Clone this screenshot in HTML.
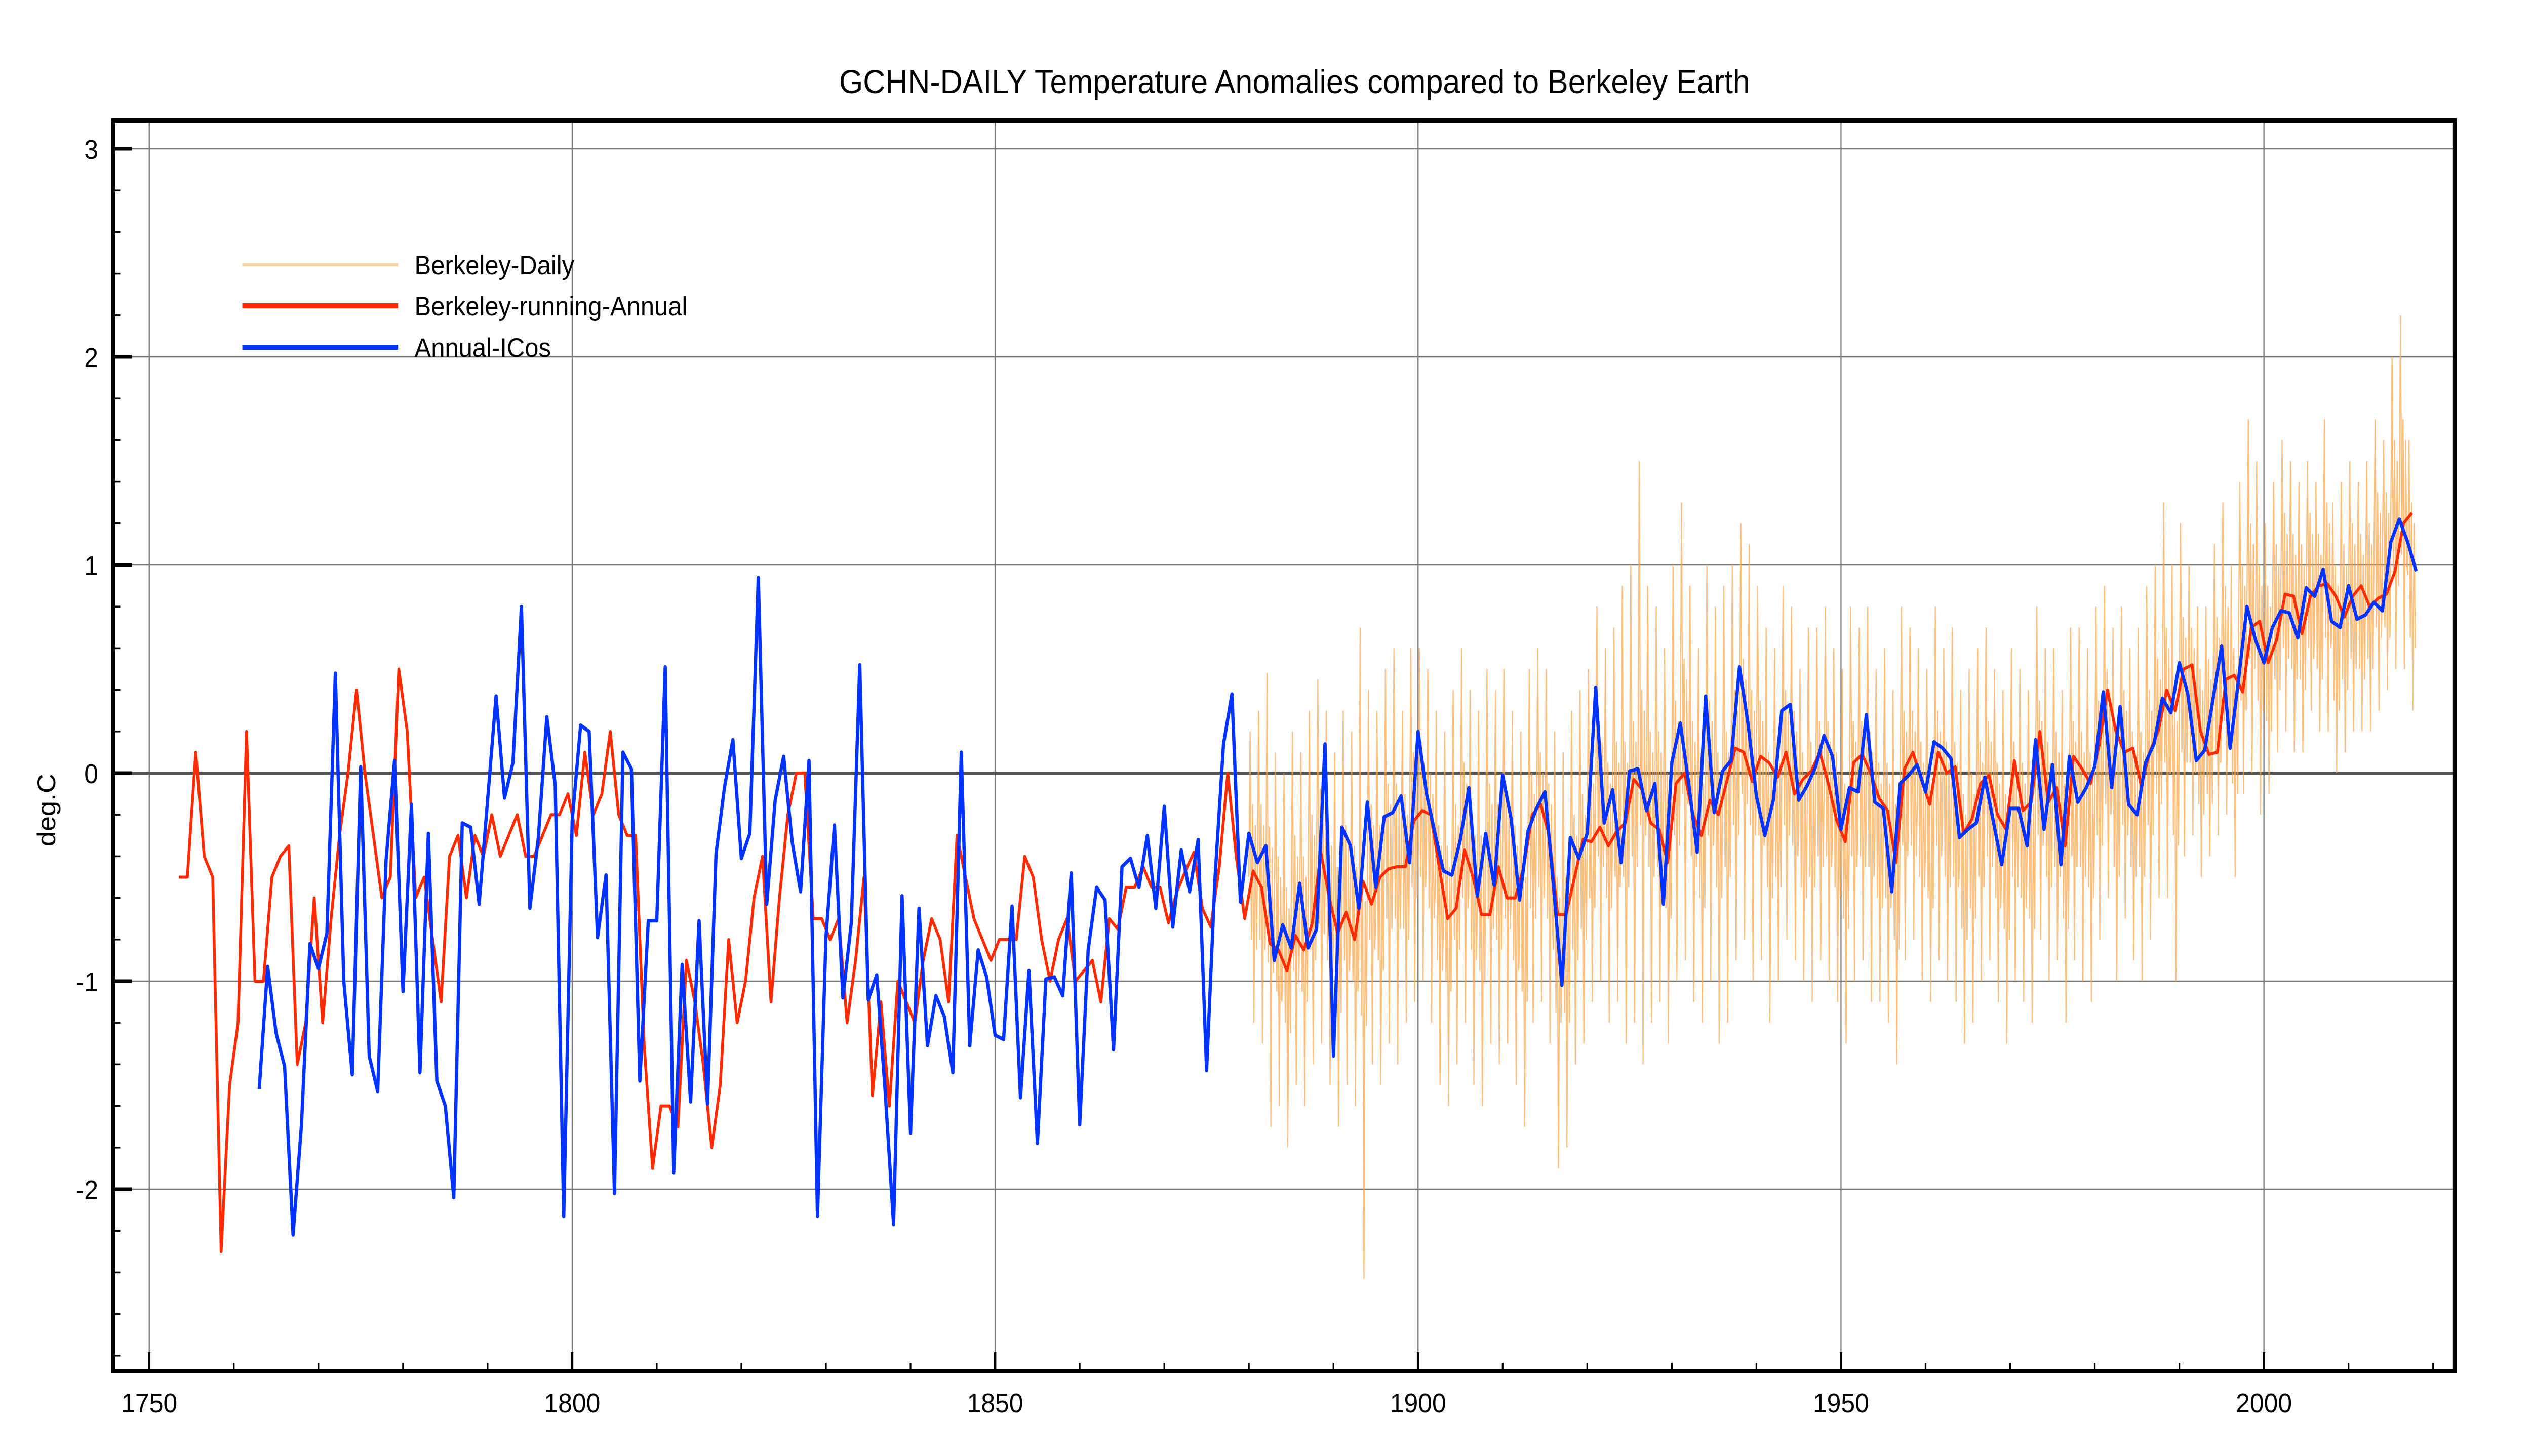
<!DOCTYPE html>
<html><head><meta charset="utf-8">
<style>
html,body{margin:0;padding:0;background:#fff;overflow:hidden;width:100vw;height:100vh;}
svg{display:block;font-family:"Liberation Sans",Arial,sans-serif;width:100vw;height:100vh;}
</style></head>
<body>
<svg id="chart" viewBox="0 0 5412 2876" preserveAspectRatio="none" xmlns="http://www.w3.org/2000/svg">
<defs><clipPath id="plotclip"><rect x="246" y="242" width="4997" height="2462"/></clipPath></defs>
<rect x="0" y="0" width="5412" height="2876" fill="#fff"/>
<text x="2767" y="184" font-size="66" text-anchor="middle" fill="#000">GCHN-DAILY Temperature Anomalies compared to Berkeley Earth</text>
<text transform="translate(118,1600) rotate(-90)" font-size="54" text-anchor="middle" fill="#000">deg.C</text>
<g id="grid"></g>
<g id="series" clip-path="url(#plotclip)"></g>
<g id="axes"></g>
<g id="legend">
  <line x1="518" y1="523" x2="851" y2="523" stroke="#fdd3a6" stroke-width="6"/>
  <text x="886" y="542" font-size="53">Berkeley-Daily</text>
  <line x1="518" y1="604" x2="851" y2="604" stroke="#ff2a00" stroke-width="10"/>
  <text x="886" y="623" font-size="53">Berkeley-running-Annual</text>
  <line x1="518" y1="686" x2="851" y2="686" stroke="#0033ff" stroke-width="10"/>
  <text x="886" y="705" font-size="53">Annual-ICos</text>
</g>
</svg>
<script>
const xTickYears = [1750, 1800, 1850, 1900, 1950, 2000];
const yTickValues = [3, 2, 1, 0, -1, -2];
const yTickLabels = ["3", "2", "1", "0", "-1", "-2"];

const redStartYear = 1753;
const redValues = [-0.5,-0.5,0.1,-0.4,-0.5,-2.3,-1.5,-1.2,0.2,-1.0,-1.0,-0.5,-0.4,-0.35,-1.4,-1.2,-0.6,-1.2,-0.7,-0.3,0.0,0.4,0.0,-0.3,-0.6,-0.5,0.5,0.2,-0.6,-0.5,-0.8,-1.1,-0.4,-0.3,-0.6,-0.3,-0.4,-0.2,-0.4,-0.3,-0.2,-0.4,-0.4,-0.3,-0.2,-0.2,-0.1,-0.3,0.1,-0.2,-0.1,0.2,
-0.2,-0.3,-0.3,-1.3,-1.9,-1.6,-1.6,-1.7,-0.9,-1.1,-1.4,-1.8,-1.5,-0.8,-1.2,-1.0,-0.6,-0.4,-1.1,-0.6,-0.2,0.0,0.0,-0.7,-0.7,-0.8,-0.7,-1.2,-0.9,-0.5,-1.55,-1.1,-1.6,-1.0,-1.1,-1.2,-0.9,-0.7,-0.8,-1.1,-0.3,-0.5,-0.7,-0.8,-0.9,-0.8,-0.8,-0.8,-0.4,-0.5,-0.8,-1.0,-0.8,-0.7,-1.0,-0.95,-0.9,-1.1,-0.7,
-0.75,-0.55,-0.55,-0.45,-0.55,-0.55,-0.72,-0.57,-0.47,-0.38,-0.65,-0.74,-0.45,0.0,-0.4,-0.7,-0.47,-0.55,-0.82,-0.85,-0.95,-0.78,-0.85,-0.72,-0.38,-0.6,-0.77,-0.67,-0.8,-0.52,-0.63,-0.5,-0.46,-0.45,-0.45,-0.23,-0.18,-0.2,-0.45,-0.7,-0.65,-0.37,-0.5,-0.68,-0.68,-0.45,-0.6,-0.6,-0.45,-0.2,-0.15,-0.3,-0.68,-0.68,-0.5,-0.32,-0.33,-0.26,-0.35,-0.28,-0.24,-0.03,-0.08,-0.24,-0.27,-0.43,-0.05,0.0,-0.2,-0.3,-0.13,
-0.2,-0.04,0.12,0.1,-0.04,0.08,0.05,-0.02,0.1,-0.1,-0.03,0.01,0.1,-0.05,-0.23,-0.33,0.05,0.09,0.0,-0.12,-0.18,-0.43,0.02,0.1,-0.03,-0.15,0.1,0.0,0.03,-0.29,-0.22,-0.05,-0.01,-0.2,-0.27,0.06,-0.18,-0.14,0.2,-0.14,-0.07,-0.35,0.08,0.02,-0.05,0.13,0.4,0.2,0.1,0.12,-0.06,0.1,0.2,0.4,0.3,0.5,0.52,0.2,0.09,0.1,0.45,0.47,0.39,0.7,0.73,0.53,0.64,0.86,0.85,0.67,0.85,0.9,0.91,0.85,0.75,0.85,0.9,0.8,0.84,0.86,0.97,1.2,1.25];

const blueStartYear = 1763;
const blueValues = [-1.52,-0.93,-1.25,-1.41,-2.22,-1.69,-0.82,-0.94,-0.77,0.48,-1.0,-1.45,0.03,-1.36,-1.53,-0.42,0.06,-1.05,-0.15,-1.44,-0.29,-1.48,-1.6,-2.04,-0.24,-0.26,-0.63,-0.13,0.37,-0.12,0.05,0.8,-0.65,-0.31,0.27,-0.06,-2.13,-0.23,0.23,0.2,-0.79,-0.49,-2.02,0.1,0.02,-1.48,-0.71,-0.71,0.51,-1.92,-0.92,-1.58,-0.71,-1.59,-0.39,-0.07,0.16,-0.41,-0.29,0.94,-0.63,-0.13,0.08,-0.33,-0.57,0.06,-2.13,-0.79,-0.25,-1.08,-0.72,0.52,-1.09,-0.97,-1.53,-2.17,-0.59,-1.73,-0.65,-1.31,-1.07,-1.17,-1.44,0.1,-1.31,-0.85,-0.98,-1.26,-1.28,-0.64,-1.56,-0.95,-1.78,-0.99,-0.98,-1.07,-0.48,-1.69,-0.85,-0.55,-0.61,-1.33,-0.45,-0.41,-0.55,-0.3,-0.65,-0.16,-0.74,-0.37,-0.57,-0.32,-1.43,-0.5,0.14,0.38,-0.62,-0.29,-0.43,-0.35,-0.9,-0.73,-0.84,-0.53,-0.84,-0.75,0.14,-1.36,-0.26,-0.35,-0.65,-0.14,-0.55,-0.21,-0.19,-0.11,-0.43,0.2,-0.1,-0.29,-0.47,-0.49,-0.32,-0.07,-0.59,-0.29,-0.54,-0.01,-0.22,-0.61,-0.28,-0.17,-0.09,-0.54,-1.02,-0.31,-0.41,-0.29,0.41,-0.24,-0.08,-0.43,0.01,0.02,-0.18,-0.05,-0.63,0.05,0.24,-0.05,-0.38,0.37,-0.19,0.01,0.06,0.51,0.24,-0.11,-0.3,-0.13,0.3,0.33,-0.13,-0.06,0.03,0.18,0.08,-0.27,-0.07,-0.09,0.28,-0.14,-0.17,-0.57,-0.05,-0.01,0.04,-0.09,0.15,0.12,0.07,-0.31,-0.27,-0.24,-0.02,-0.23,-0.44,-0.17,-0.17,-0.35,0.16,-0.27,0.04,-0.44,0.08,-0.14,-0.07,0.03,0.39,-0.07,0.32,-0.15,-0.2,0.05,0.14,0.36,0.29,0.53,0.38,0.06,0.11,0.36,0.61,0.12,0.45,0.8,0.64,0.53,0.7,0.78,0.77,0.65,0.89,0.85,0.98,0.73,0.7,0.9,0.74,0.76,0.82,0.78,1.11,1.22,1.11,0.97];

const dailyStartYear = 1880;
const dailyHigh = [0.2,0.3,0.48,0.1,0.0,0.2,0.1,0.3,0.45,0.3,
0.1,0.3,0.2,0.7,0.4,0.3,0.5,0.6,0.3,0.6,
0.6,0.5,0.3,0.2,0.4,0.6,0.4,0.3,0.5,0.4,
0.5,0.3,0.2,0.5,0.6,0.5,0.2,0.1,0.3,0.4,
0.5,0.8,0.6,0.7,0.9,1.0,1.5,0.9,0.8,0.6,
1.0,1.3,0.9,0.6,1.0,0.8,0.9,1.0,1.2,1.1,
0.9,0.7,0.6,0.9,0.8,0.5,0.7,0.7,0.8,0.6,
0.5,0.8,0.7,0.8,0.5,0.6,0.4,0.8,0.7,0.6,
0.5,0.8,0.6,0.7,0.4,0.5,0.6,0.7,0.5,0.4,
0.6,0.5,0.4,0.8,0.6,0.6,0.4,0.7,0.7,0.6,
0.8,0.9,0.7,0.8,0.6,0.7,0.9,1.0,1.3,1.0,
1.2,1.0,0.8,0.8,1.1,1.3,1.0,1.4,1.7,1.5,
1.2,1.4,1.6,1.5,1.4,1.5,1.4,1.7,1.3,1.4,
1.5,1.4,1.5,1.7,1.6,2.0,2.2,1.6];
const dailyLow = [-1.2,-1.3,-1.7,-1.6,-1.8,-1.5,-1.6,-1.4,-1.3,-1.5,
-1.7,-1.5,-1.6,-2.43,-1.4,-1.5,-1.3,-1.4,-1.2,-1.1,
-1.0,-1.2,-1.5,-1.6,-1.4,-1.2,-1.5,-1.6,-1.3,-1.4,
-1.3,-1.5,-1.7,-1.2,-1.1,-1.3,-1.9,-1.8,-1.4,-1.3,
-1.1,-1.0,-1.2,-1.1,-1.3,-1.2,-1.4,-1.2,-1.1,-1.3,
-1.0,-0.9,-1.1,-1.2,-1.0,-1.3,-1.2,-0.9,-0.8,-1.0,
-0.9,-1.2,-1.0,-0.8,-0.9,-1.0,-1.1,-0.9,-1.0,-1.1,
-1.3,-1.0,-0.9,-1.1,-1.1,-1.2,-1.4,-0.9,-0.8,-1.0,
-1.1,-0.9,-1.0,-1.1,-1.3,-1.2,-1.0,-0.9,-1.1,-1.3,
-1.0,-1.1,-1.2,-0.8,-1.0,-0.9,-1.2,-0.9,-1.0,-1.1,
-0.8,-0.6,-1.0,-0.7,-0.9,-1.0,-0.8,-0.6,-0.6,-1.0,
-0.4,-0.3,-0.5,-0.4,-0.3,-0.2,-0.5,-0.1,0.0,-0.2,
-0.1,0.1,0.2,0.1,0.1,0.3,0.2,0.2,0.0,0.1,
0.2,0.2,0.2,0.3,0.4,0.5,0.5,0.3];

const NS = "http://www.w3.org/2000/svg";
const X0 = 242, X1 = 5247, Y0 = 238, Y1 = 2708;
function xScale(yr){ return 319 + (yr - 1750) * 18.08; }
function yScale(v){ return 1527 - v * 411; }
function mk(tag, attrs, parent){
  const el = document.createElementNS(NS, tag);
  for (const k in attrs) el.setAttribute(k, attrs[k]);
  parent.appendChild(el);
  return el;
}
const grid = document.getElementById('grid');
const axes = document.getElementById('axes');
const series = document.getElementById('series');

xTickYears.forEach(function(yr){
  const l = mk('line', {x1: xScale(yr), x2: xScale(yr), y1: Y0, y2: Y1, stroke: '#777', 'stroke-width': 2.5}, grid);
  
  
});
yTickValues.forEach(function(v){
  const l = mk('line', {x1: X0, x2: X1, y1: yScale(v), y2: yScale(v), stroke: v === 0 ? '#555' : '#777', 'stroke-width': v === 0 ? 6 : 2.5}, grid);
  
  
});

let dp = '';
dailyHigh.forEach(function(h, i){
  const yr = dailyStartYear + i;
  const lo = dailyLow[i];
  const mid = (h + lo) / 2;
  dp += (i === 0 ? 'M' : 'L') + xScale(yr).toFixed(1) + ',' + yScale(mid).toFixed(1);
  dp += 'L' + xScale(yr + 0.15).toFixed(1) + ',' + yScale(h).toFixed(1);
  dp += 'L' + xScale(yr + 0.3).toFixed(1) + ',' + yScale(mid - 0.3).toFixed(1);
  dp += 'L' + xScale(yr + 0.45).toFixed(1) + ',' + yScale(mid + 0.35).toFixed(1);
  dp += 'L' + xScale(yr + 0.6).toFixed(1) + ',' + yScale(lo).toFixed(1);
  dp += 'L' + xScale(yr + 0.75).toFixed(1) + ',' + yScale(mid + 0.25).toFixed(1);
  dp += 'L' + xScale(yr + 0.9).toFixed(1) + ',' + yScale(mid - 0.35).toFixed(1);
});
const daily = mk('path', {d: dp, fill: 'none', stroke: '#ffa445', 'stroke-opacity': 0.7, 'stroke-width': 2.5}, series);



let rp = '';
redValues.forEach(function(v, i){
  rp += (i === 0 ? 'M' : 'L') + xScale(redStartYear + i + 0.5).toFixed(1) + ',' + yScale(v).toFixed(1);
});
const red = mk('path', {d: rp, fill: 'none', stroke: '#ff2a00', 'stroke-width': 6, 'stroke-linejoin': 'round'}, series);



let bp = '';
blueValues.forEach(function(v, i){
  bp += (i === 0 ? 'M' : 'L') + xScale(blueStartYear + i).toFixed(1) + ',' + yScale(v).toFixed(1);
});
const blue = mk('path', {d: bp, fill: 'none', stroke: '#0033ff', 'stroke-width': 7, 'stroke-linejoin': 'round'}, series);



const frame = mk('rect', {x: X0, y: Y0, width: X1 - X0, height: Y1 - Y0, fill: 'none', stroke: '#000', 'stroke-width': 8}, axes);



for (let yr = 1750; yr <= 2020; yr += 10){
  const major = yr % 50 === 0;
  const t = mk('line', {x1: xScale(yr), x2: xScale(yr), y1: Y1, y2: Y1 - (major ? 37 : 16), stroke: '#000', 'stroke-width': major ? 5 : 3.5}, axes);
  
  
}
xTickYears.forEach(function(yr){
  const t = mk('text', {x: xScale(yr), y: 2790, 'font-size': 54, 'text-anchor': 'middle', fill: '#000'}, axes);
  t.textContent = String(yr);
  
  
});
for (let k = -14; k <= 15; k++){
  const v = k / 5;
  const major = k % 5 === 0;
  const t = mk('line', {x1: X0, x2: X0 + (major ? 40 : 15), y1: yScale(v), y2: yScale(v), stroke: '#000', 'stroke-width': major ? 7 : 3.5}, axes);
  
  
}
yTickValues.forEach(function(v, i){
  const t = mk('text', {x: 210, y: yScale(v) + 20, 'font-size': 54, 'text-anchor': 'end', fill: '#000'}, axes);
  t.textContent = yTickLabels[i];
  
  
});
</script>
</body></html>
